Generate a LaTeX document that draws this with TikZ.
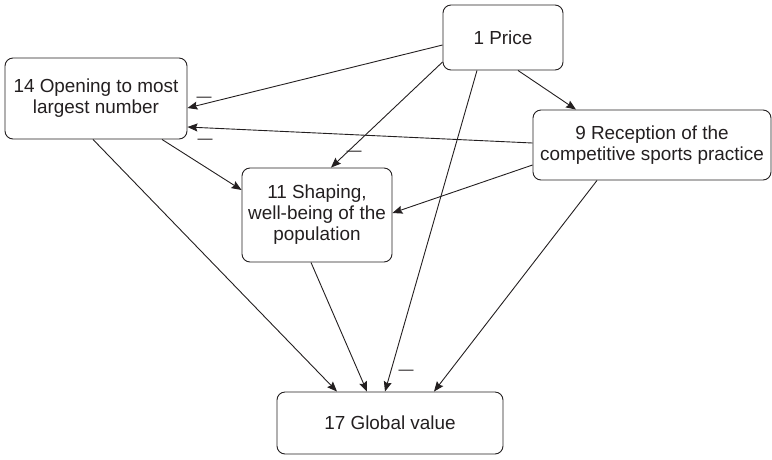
\documentclass[tikz,border=0pt]{standalone}
\usepackage{fontspec}
\setmainfont{Liberation Sans}
\usetikzlibrary{arrows.meta}
\definecolor{ink}{HTML}{231F20}
\begin{document}
\begin{tikzpicture}[x=1pt,y=-1pt,
  box/.style={draw=ink, line width=0.9pt, rounded corners=8pt, align=center,
    text=ink, font=\fontsize{18.9}{21}\selectfont, inner sep=0pt},
  link/.style={draw=ink, line width=0.9pt,
    -{Stealth[length=10pt,width=8pt,inset=1.5pt]}},
  minus/.style={text=ink, font=\fontsize{15}{15}\selectfont, inner sep=0pt}]
\useasboundingbox (0,0) rectangle (772,459);

% factor boxes
\node[box, minimum width=120pt, minimum height=65pt] (price) at (503,37.5) {1 Price};
\node[box, minimum width=182pt, minimum height=81pt] (open) at (96,98.5)
  {14 Opening to most\\largest number};
\node[box, minimum width=238pt, minimum height=70pt] (recep) at (652,145)
  {9 Reception of the\\competitive sports practice};
\node[box, minimum width=150pt, minimum height=94pt] (shape) at (317,215)
  {11 Shaping,\\well-being of the\\population};
\node[box, minimum width=226pt, minimum height=62pt] (glob) at (390,423)
  {17 Global value};

% influences
\draw[link] ([yshift=-7.5pt]price.west) -- ([yshift=-9.5pt]open.east);
\draw[link] ([yshift=2pt]recep.west) -- ([yshift=-28.5pt]open.east);
\draw[link] ([yshift=-24.5pt]price.west) -- ([xshift=14pt]shape.north);
\draw[link] ([xshift=-26pt]price.south) -- ([xshift=-5pt]glob.north);
\draw[link] ([xshift=15pt]price.south) -- ([xshift=-76pt]recep.north);
\draw[link] ([xshift=66pt]open.south) -- ([yshift=25pt]shape.west);
\draw[link] ([xshift=-3pt]open.south) -- ([xshift=-53pt]glob.north);
\draw[link] ([xshift=-6pt]shape.south) -- ([xshift=-23pt]glob.north);
\draw[link] ([yshift=-20pt]recep.west) -- ([yshift=2pt]shape.east);
\draw[link] ([xshift=-55pt]recep.south) -- ([xshift=44pt]glob.north);

% negative signs
\node[minus] (m1) at (204,99) {—};
\node[minus] (m2) at (205,141) {—};
\node[minus] (m3) at (354,153) {—};
\node[minus] (m4) at (406,372) {—};
\end{tikzpicture}
\end{document}
